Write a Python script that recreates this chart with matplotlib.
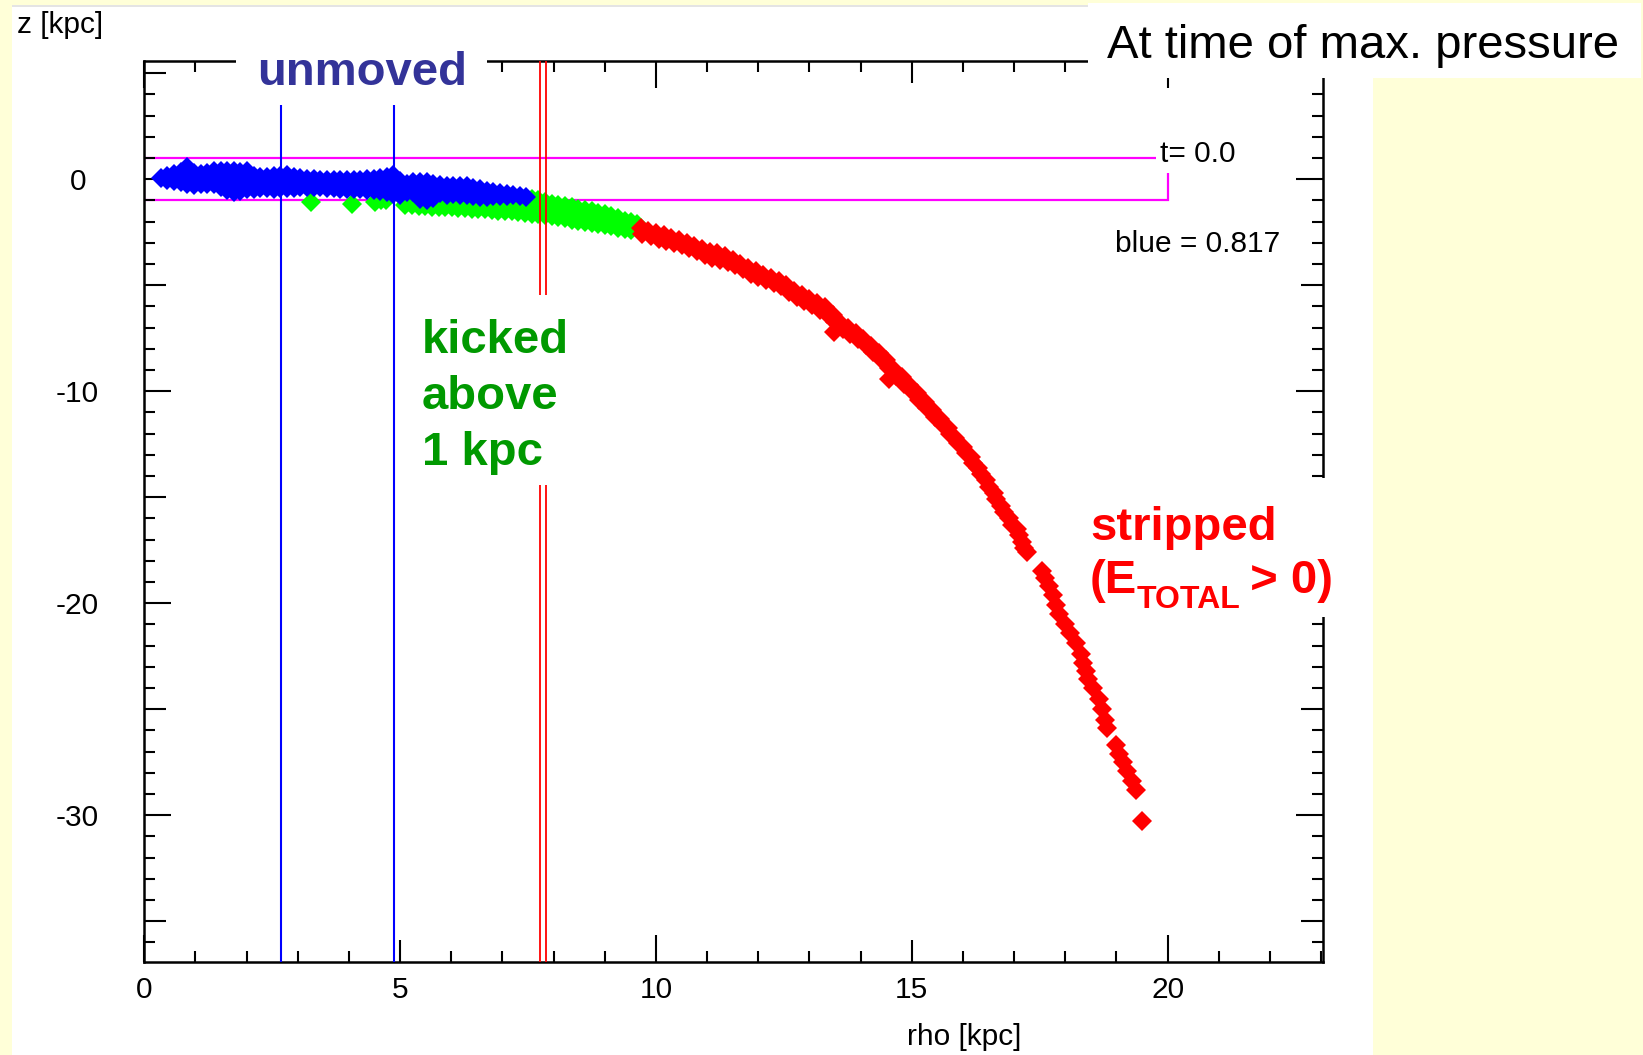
import matplotlib
matplotlib.use('Agg')
import matplotlib.pyplot as plt
from matplotlib.patches import Rectangle
from matplotlib.ticker import FixedLocator, FuncFormatter

W, H, DPI = 1643, 1055, 100
plt.rcParams['font.family'] = ['Liberation Sans', 'DejaVu Sans']

# ---------------- data ----------------
# unmoved particles (blue): columns of rho with the z values in each column
blue_rho_cols = [0.32, 0.45, 0.58, 0.71, 0.84, 0.97, 1.10, 1.23, 1.36, 1.49, 1.62, 1.75, 1.88,
                 2.01, 2.14, 2.27, 2.40, 2.53, 2.66, 2.79, 2.92, 3.05, 3.18, 3.31, 3.44, 3.57,
                 3.70, 3.83, 3.96, 4.09, 4.22, 4.35, 4.48, 4.61, 4.74, 4.87, 5.00, 5.13, 5.26,
                 5.39, 5.52, 5.65, 5.78, 5.91, 6.04, 6.17, 6.30, 6.43, 6.56, 6.69, 6.82, 6.95,
                 7.08, 7.21, 7.34, 7.45]
blue_z_cols = [[0.05], [0.15, -0.05], [0.25, -0.1], [0.35, -0.15], [0.6, 0.2, -0.2],
               [0.3, -0.25], [0.25, -0.2], [0.3, -0.2], [0.4, 0.0, -0.2], [0.4, 0.0, -0.35],
               [0.4, 0.0, -0.5], [0.4, 0.0, -0.6], [0.35, -0.05, -0.55], [0.4, 0.0, -0.45],
               [0.15, -0.2, -0.45], [0.1, -0.4], [0.1, -0.4], [0.15, -0.45], [0.15, -0.4],
               [0.18, -0.4], [0.1, -0.4], [0.05, -0.35], [0.02, -0.35], [0.0, -0.35],
               [-0.02, -0.35], [-0.05, -0.4], [-0.05, -0.42], [-0.04, -0.45], [-0.05, -0.45],
               [-0.05, -0.48], [-0.04, -0.48], [0.0, -0.5], [0.0, -0.5], [0.07, -0.3, -0.55],
               [0.1, -0.3, -0.6], [0.18, -0.25, -0.7], [-0.1, -0.5, -0.75], [-0.2, -0.6],
               [-0.15, -0.6], [-0.15, -0.65, -0.95], [-0.14, -0.55, -0.98], [-0.2, -0.6, -0.9],
               [-0.25, -0.65], [-0.3, -0.75], [-0.3, -0.7], [-0.3, -0.72], [-0.32, -0.75],
               [-0.4, -0.8], [-0.45, -0.85], [-0.55, -0.85], [-0.6, -0.8], [-0.65, -0.8],
               [-0.7, -0.8], [-0.75], [-0.8], [-0.85]]

# kicked particles (green)
green_rho_cols = [3.25, 4.05, 4.50, 4.62, 4.72, 5.10, 5.23, 5.36, 5.49, 5.62, 5.75, 5.88, 6.01,
                  6.14, 6.27, 6.40, 6.53, 6.66, 6.79, 6.92, 7.05, 7.18, 7.31, 7.44, 7.57, 7.70,
                  7.83, 7.96, 8.09, 8.22, 8.35, 8.48, 8.61, 8.74, 8.87, 9.00, 9.13, 9.26, 9.39,
                  9.52, 9.62]
green_z_cols = [[-1.05], [-1.15], [-1.05], [-0.98], [-1.0], [-1.0, -1.2], [-1.05, -1.2],
                [-1.1, -1.25], [-1.1, -1.25], [-1.1, -1.3], [-1.05, -1.3], [-1.05, -1.3],
                [-1.05, -1.3], [-1.1, -1.35], [-1.1, -1.35], [-1.1, -1.38], [-1.15, -1.4],
                [-1.15, -1.4], [-1.1, -1.45], [-1.1, -1.5], [-1.1, -1.5], [-1.05, -1.52],
                [-1.0, -1.55], [-0.95, -1.3, -1.58], [-0.95, -1.3, -1.62], [-1.0, -1.35, -1.65],
                [-1.05, -1.4, -1.7], [-1.15, -1.45, -1.75], [-1.2, -1.5, -1.8],
                [-1.25, -1.55, -1.85], [-1.3, -1.6, -1.9], [-1.38, -1.95], [-1.45, -2.0],
                [-1.5, -2.05], [-1.6, -2.1], [-1.65, -2.15], [-1.75, -2.2], [-1.85, -2.3],
                [-1.95, -2.35], [-2.0, -2.4], [-2.1]]

# stripped particles (red)
red_rho = [9.70, 9.72, 9.85, 9.90, 10.00, 10.05, 10.15, 10.20, 10.30, 10.35, 10.45, 10.50,
           10.60, 10.65, 10.75, 10.80, 10.90, 10.95, 11.05, 11.10, 11.20, 11.25, 11.35, 11.40,
           11.50, 11.55, 11.65, 11.70, 11.80, 11.85, 11.95, 12.00, 12.10, 12.15, 12.25, 12.30,
           12.40, 12.45, 12.55, 12.60, 12.70, 12.75, 12.85, 12.90, 13.00, 13.05, 13.15, 13.20,
           13.30, 13.35, 13.45, 13.50, 13.48, 13.60, 13.65, 13.75, 13.80, 13.90, 13.95, 14.05,
           14.10, 14.20, 14.25, 14.35, 14.40, 14.50, 14.55, 14.55, 14.65, 14.70, 14.80, 14.85,
           14.95, 15.00, 15.10, 15.15, 15.25, 15.30, 15.40, 15.45, 15.55, 15.60, 15.70, 15.75,
           15.85, 15.90, 16.00, 16.05, 16.15, 16.20, 16.30, 16.35, 16.45, 16.50, 16.60, 16.65,
           16.75, 16.80, 16.90, 16.95, 17.05, 17.10, 17.15, 17.20, 17.25, 17.55, 17.60, 17.68,
           17.75, 17.82, 17.88, 18.00, 18.10, 18.20, 18.30, 18.35, 18.40, 18.45, 18.55, 18.65,
           18.72, 18.78, 18.82, 19.00, 19.05, 19.12, 19.20, 19.30, 19.38, 19.50]
red_z = [-2.30, -2.60, -2.45, -2.70, -2.55, -2.80, -2.65, -2.90, -2.75, -3.00, -2.85, -3.10,
         -3.00, -3.25, -3.15, -3.40, -3.30, -3.55, -3.45, -3.70, -3.50, -3.80, -3.60, -3.90,
         -3.80, -4.05, -4.00, -4.25, -4.20, -4.45, -4.35, -4.60, -4.50, -4.75, -4.65, -4.90,
         -4.80, -5.05, -5.00, -5.30, -5.25, -5.55, -5.45, -5.75, -5.65, -5.95, -5.85, -6.15,
         -6.05, -6.35, -6.40, -6.75, -7.20, -6.80, -7.05, -7.00, -7.30, -7.25, -7.55, -7.55,
         -7.80, -7.85, -8.15, -8.20, -8.50, -8.55, -8.90, -9.40, -9.00, -9.30, -9.35, -9.65,
         -9.70, -10.00, -10.10, -10.40, -10.50, -10.80, -10.90, -11.20, -11.30, -11.60, -11.75,
         -12.00, -12.20, -12.45, -12.65, -12.90, -13.10, -13.40, -13.60, -13.90, -14.20, -14.50,
         -14.80, -15.10, -15.40, -15.70, -16.00, -16.30, -16.50, -16.80, -17.10, -17.40, -17.60,
         -18.50, -18.80, -19.20, -19.60, -20.10, -20.50, -21.00, -21.40, -21.90, -22.40, -22.80,
         -23.20, -23.60, -24.00, -24.50, -25.00, -25.50, -25.90, -26.70, -27.10, -27.50, -27.90,
         -28.40, -28.80, -30.30]

unmoved_radii = [2.67, 4.88]        # blue vertical lines
stripping_radii = [7.73, 7.86]      # red vertical lines
box_rho = [0, 20]                   # magenta t=0 slab
box_z = [-1, 1]

x_major = [0, 5, 10, 15, 20]
x_minor = list(range(0, 24))
y_major = [5, 0, -5, -10, -15, -20, -25, -30, -35]
y_minor = list(range(-36, 6))
y_labelled = [0, -10, -20, -30]

blue_rho = [r for r, zs in zip(blue_rho_cols, blue_z_cols) for _ in zs]
blue_z = [z for zs in blue_z_cols for z in zs]
green_rho = [r for r, zs in zip(green_rho_cols, green_z_cols) for _ in zs]
green_z = [z for zs in green_z_cols for z in zs]

# ---------------- figure ----------------
def fx(p):
    return p / W

def fy(p):
    return 1 - p / H

fig = plt.figure(figsize=(W / DPI, H / DPI), dpi=DPI, facecolor='#FFFFD8')

def fig_rect(x0, y0, x1, y1, color='white', z=3):
    fig.add_artist(Rectangle((fx(x0), fy(y1)), fx(x1) - fx(x0), fy(y0) - fy(y1),
                             transform=fig.transFigure, facecolor=color,
                             edgecolor='none', zorder=z))

# white applet panel
fig_rect(11.7, 6.7, 1373, 1056, z=-2)
fig_rect(11.7, 4.6, 1088, 6.7, color='#E4E4E4', z=-2)

ax = fig.add_axes([fx(144.3), fy(962), fx(1322.7) - fx(144.3), fy(61) - fy(962)])
ax.set_xlim(0, 23.03)
ax.set_ylim(-36.93, 5.58)
for s in ax.spines.values():
    s.set_linewidth(1.8)
    s.set_color('black')

ax.add_patch(Rectangle((box_rho[0], box_z[0]), box_rho[1] - box_rho[0], box_z[1] - box_z[0],
                       facecolor='none', edgecolor='#FF00FF', linewidth=1.6, zorder=1))

mk = dict(linestyle='none', marker='D', markersize=9.8, markeredgewidth=0)
ax.plot(green_rho, green_z, color='#00FF00', zorder=2, **mk)
ax.plot(red_rho, red_z, color='#FF0000', zorder=2, **mk)
ax.plot(blue_rho, blue_z, color='#0000FF', zorder=2.2, **mk)

for r in unmoved_radii:
    ax.axvline(r, color='#0000FF', linewidth=1.5, zorder=3)
for r in stripping_radii:
    ax.axvline(r, color='#FF0000', linewidth=1.3, zorder=3)

ax.xaxis.set_major_locator(FixedLocator(x_major))
ax.xaxis.set_minor_locator(FixedLocator(x_minor))
ax.yaxis.set_major_locator(FixedLocator(y_major))
ax.yaxis.set_minor_locator(FixedLocator(y_minor))
ax.xaxis.set_major_formatter(FuncFormatter(lambda v, p: '%d' % v))
ax.yaxis.set_major_formatter(FuncFormatter(
    lambda v, p: ('%d' % v) if int(round(v)) in y_labelled else ''))

ax.tick_params(which='both', direction='in', top=True, right=True, width=1.5, color='black')
ax.tick_params(which='minor', length=7.9)
ax.tick_params(which='major', length=15.8)
ax.tick_params(axis='x', which='major', labelsize=21.5, pad=10)
ax.tick_params(axis='y', which='major', labelsize=21.5, pad=48)

for t, v in zip(ax.xaxis.get_major_ticks(), x_major):
    L = 19.4 if v % 10 == 0 else 15.8
    t.tick1line.set_markersize(L)
    t.tick2line.set_markersize(L)
for t, v in zip(ax.yaxis.get_major_ticks(), y_major):
    L = 19.4 if v % 10 == 0 else 15.8
    t.tick1line.set_markersize(L)
    t.tick2line.set_markersize(L)
    t.label1.set_horizontalalignment('center')

# value labels inside the plot
fig_rect(1156, 126, 1252, 173)
fig.text(fx(1160), fy(162.3), 't= 0.0', fontsize=21.5, ha='left', va='baseline', zorder=4)
fig.text(fx(1114.8), fy(251.7), 'blue = 0.817', fontsize=21.5, ha='left', va='baseline', zorder=4)

# axis titles
fig.text(fx(16.7), fy(33.3), 'z [kpc]', fontsize=21.5, ha='left', va='baseline')
fig.text(fx(906.8), fy(1045), 'rho [kpc]', fontsize=21.5, ha='left', va='baseline')

# annotation boxes
fig_rect(1088, 2.7, 1641, 78.3)
fig.text(fx(1107), fy(58.3), 'At time of max. pressure', fontsize=34, ha='left',
         va='baseline', zorder=4)

fig_rect(235.8, 30, 487, 104.8)
fig.text(fx(257.5), fy(85), 'unmoved', fontsize=34, fontweight='bold', color='#333399',
         ha='left', va='baseline', zorder=4)

fig_rect(405, 295, 580, 485)
for line, base in zip(['kicked', 'above', '1 kpc'], [353, 409, 465]):
    fig.text(fx(421.7), fy(base), line, fontsize=34, fontweight='bold', color='#009900',
             ha='left', va='baseline', zorder=4)

fig_rect(1080, 478, 1345, 617)
red_txt = dict(fontweight='bold', color='#FF0000', ha='left', va='baseline', zorder=4)
fig.text(fx(1090), fy(540), 'stripped', fontsize=34, **red_txt)
fig.text(fx(1090), fy(593), '(E', fontsize=34, **red_txt)
fig.text(fx(1136.5), fy(608), 'TOTAL', fontsize=23, **red_txt)
fig.text(fx(1237), fy(593), ' > 0)', fontsize=34, **red_txt)

fig_rect(1373, 78.3, 1643, 1056, color='#FFFFD8', z=3)

fig.savefig('out.png', dpi=DPI, facecolor=fig.get_facecolor())
